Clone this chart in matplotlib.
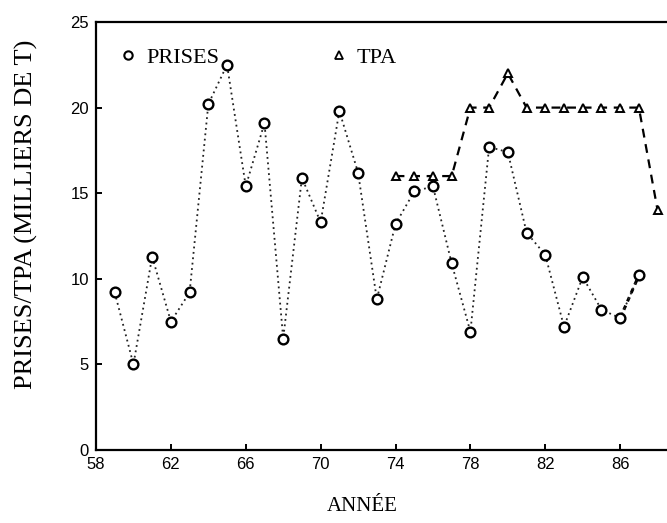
import matplotlib
matplotlib.use("Agg")
import matplotlib.pyplot as plt
from matplotlib.lines import Line2D

# Data
years_prises = list(range(59, 88))
prises = [9.2, 5.0, 11.3, 7.5, 9.2, 20.2, 22.5, 15.4, 19.1, 6.5,
          15.9, 13.3, 19.8, 16.2, 8.8, 13.2, 15.1, 15.4, 10.9, 6.9,
          17.7, 17.4, 12.7, 11.4, 7.2, 10.1, 8.2, 7.7, 10.2]
years_tpa = list(range(74, 89))
tpa = [16, 16, 16, 16, 20, 20, 22, 20, 20, 20, 20, 20, 20, 20, 14]
xticks = [58, 62, 66, 70, 74, 78, 82, 86]
yticks = [0, 5, 10, 15, 20, 25]

W, H = 667, 523
fig = plt.figure(figsize=(W / 100, H / 100), dpi=100)
ax = fig.add_axes([96 / W, (H - 450) / H, (W - 96) / W, (450 - 22) / H])

serif = "Liberation Serif"

ax.plot(years_prises, prises, color="#222222", linestyle=(0, (1, 2)), lw=1.3,
        marker="o", markersize=7, markerfacecolor="white",
        markeredgecolor="black", markeredgewidth=1.7, zorder=3)
ax.plot(years_prises[-2:], prises[-2:], color="black", linestyle=(0, (1.5, 1.5)),
        lw=2.2, zorder=2)
ax.plot(years_tpa, tpa, color="black", linestyle=(0, (4, 3)), lw=1.6,
        marker="^", markersize=6, markerfacecolor="white",
        markeredgecolor="black", markeredgewidth=1.4, zorder=3)

ax.set_xlim(58, 58 + (W - 96) / 18.72)
ax.set_ylim(0, 25)
ax.set_xticks(xticks)
ax.set_yticks(yticks)
ax.set_xticklabels([str(t) for t in xticks], fontfamily="Liberation Sans", fontsize=12)
ax.set_yticklabels([str(t) for t in yticks], fontfamily="Liberation Sans", fontsize=12)
ax.tick_params(direction="in", length=4, width=1.4, pad=5)

for s in ["left", "bottom", "top"]:
    ax.spines[s].set_linewidth(1.6)
ax.spines["right"].set_visible(False)

ax.set_ylabel("PRISES/TPA (MILLIERS DE T)", fontfamily=serif, fontsize=19)
ax.yaxis.set_label_coords((38 - 96) / (W - 96), (450 - 214) / (450 - 22))
ax.set_xlabel("ANNÉE", fontfamily=serif, fontsize=15)
ax.xaxis.set_label_coords((362 - 96) / (W - 96), (450 - 497) / (450 - 22))

handles = [
    Line2D([], [], linestyle="none", marker="o", markersize=6,
           markerfacecolor="white", markeredgecolor="black", markeredgewidth=1.5),
    Line2D([], [], linestyle="none", marker="^", markersize=6,
           markerfacecolor="white", markeredgecolor="black", markeredgewidth=1.3),
]
fig.legend(handles, ["PRISES", "TPA"], ncol=2, loc="center left",
           bbox_to_anchor=(117 / W, 1 - 58 / H), frameon=False,
           prop={"family": serif, "size": 16}, handlelength=1.0,
           handletextpad=0.3, columnspacing=4.9, borderpad=0, borderaxespad=0)

fig.savefig("out.png", dpi=100)
